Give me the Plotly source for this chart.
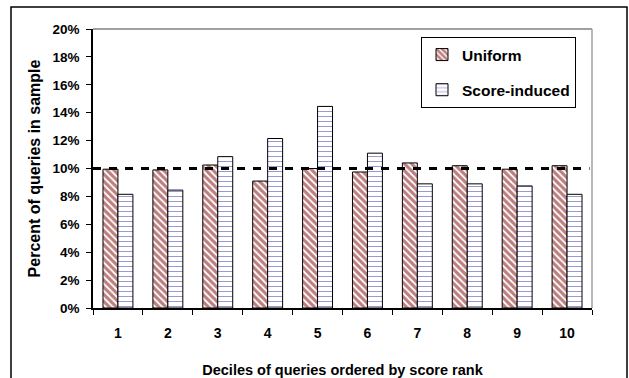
import plotly.graph_objects as go

deciles = ["1", "2", "3", "4", "5", "6", "7", "8", "9", "10"]
uniform = [9.95, 9.9, 10.25, 9.1, 10.0, 9.75, 10.4, 10.2, 9.95, 10.2]
score_induced = [8.15, 8.45, 10.85, 12.15, 14.45, 11.1, 8.9, 8.9, 8.75, 8.15]
y_ticks = [0, 2, 4, 6, 8, 10, 12, 14, 16, 18, 20]
y_tick_text = [f"{v}%" for v in y_ticks]
reference_level = 10

W, H = 629, 378
L, R, T, B = 93, 37, 29, 70

fig = go.Figure()
fig.add_trace(go.Bar(
    x=deciles, y=uniform, name="Uniform", legendgroup="u",
    marker=dict(color="white", line=dict(color="black", width=1),
                pattern=dict(shape="\\", fgcolor="#7a0000", bgcolor="white",
                             size=5, solidity=0.65)),
))
fig.add_trace(go.Bar(
    x=deciles, y=score_induced, name="Score-induced", legendgroup="s",
    marker=dict(color="white", line=dict(color="black", width=1),
                pattern=dict(shape="-", fgcolor="#3333aa", bgcolor="white",
                             size=5, solidity=0.2)),
))

pw = W - L - R
ph = H - T - B
fig.add_shape(type="line", xref="paper", yref="y", x0=0, x1=0.995,
              y0=reference_level, y1=reference_level,
              line=dict(color="black", width=3, dash="8px,8px"))
# plot area top/right border
fig.add_shape(type="line", xref="paper", yref="paper", x0=0, x1=1, y0=1, y1=1,
              line=dict(color="#808080", width=1.5))
fig.add_shape(type="line", xref="paper", yref="paper", x0=1, x1=1, y0=0, y1=1,
              line=dict(color="#a0a0a0", width=1.5))
# outer frame
fig.add_shape(type="rect", xref="paper", yref="paper",
              x0=(11 - L) / pw, x1=(627 - L) / pw,
              y0=-0.4, y1=(H - B - 7) / ph,
              line=dict(color="black", width=1.5), layer="below")

fig.update_layout(
    width=W, height=H,
    margin=dict(l=L, r=R, t=T, b=B, autoexpand=False),
    paper_bgcolor="white", plot_bgcolor="white",
    barmode="group", bargap=0.4, bargroupgap=0,
    font=dict(family="Liberation Sans, Arial", color="black", size=12),
    showlegend=True,
    legend=dict(x=(421 - L) / pw, y=(H - B - 37) / ph, xanchor="left", yanchor="top",
                bordercolor="black", borderwidth=1, bgcolor="white",
                font=dict(size=15.5, family="Liberation Sans, Arial", weight="bold"),
                traceorder="grouped", tracegroupgap=12,
                itemwidth=30),
)
fig.update_xaxes(
    type="category", showline=True, linecolor="black", linewidth=1.5,
    ticks="outside", ticklen=5, tickcolor="black", tickson="boundaries",
    tickfont=dict(size=14, weight="bold"), ticklabelstandoff=11,
    title=dict(text="Deciles of queries ordered by score rank",
               font=dict(size=14.5, weight="bold"), standoff=26),
    showgrid=False, automargin=False,
)
fig.update_yaxes(
    range=[0, 20], tickvals=y_ticks, ticktext=y_tick_text,
    showline=True, linecolor="black", linewidth=1.5,
    ticks="outside", ticklen=5, tickcolor="black",
    tickfont=dict(size=13.5, weight="bold"), ticklabelstandoff=4,
    title=dict(text="Percent of queries in sample",
               font=dict(size=16, weight="bold"), standoff=8),
    showgrid=False, zeroline=False, automargin=False,
)

fig.write_html("out.html", config={"displayModeBar": False},
               post_script="document.body.style.margin='0';document.body.style.padding='0';")
